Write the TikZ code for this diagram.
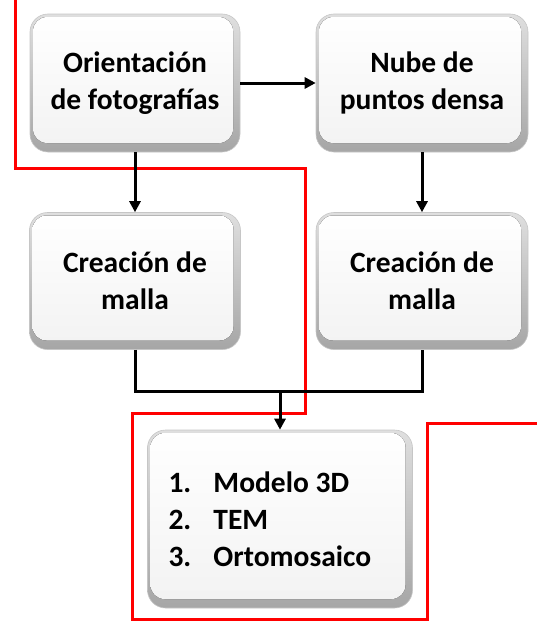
\documentclass[tikz,border=0pt]{standalone}
\usepackage{fontspec}
\setmainfont{Carlito}
\usepackage{xcolor}
\usepackage{tikz}
\usetikzlibrary{arrows.meta}

\begin{document}
\begin{tikzpicture}[
  x=1pt,
  y=-1pt,
  every node/.style={font=\bfseries\fontsize{29.5}{37}\selectfont},
  flowbox/.style={rounded corners=18pt, align=center, draw=gray!45, line width=0.6pt,
    top color=gray!25, bottom color=gray!70,
    path picture={\fill[rounded corners=14pt, top color=white, bottom color=gray!10]
      ([xshift=3pt,yshift=-3pt]path picture bounding box.north west) rectangle
      ([xshift=-7pt,yshift=9pt]path picture bounding box.south east);}},
  link/.style={line width=3pt, -{Triangle[length=11pt,width=11pt]}},
]
\path[use as bounding box] (0,0) rectangle (537,621);

% Layout.
\def\colL{135}
\def\colR{422}

% Red outline.
\draw[red, line width=3pt] (15,0) -- (15,168) -- (305,168) -- (305,413) -- (132,413)
  -- (132,619) -- (427,619) -- (427,423) -- (537,423);

% Boxes.
\node[flowbox, minimum width=210pt, minimum height=138pt] (orient) at (\colL,83) {Orientación\\de fotografías};
\node[flowbox, minimum width=212pt, minimum height=138pt] (nube) at (\colR,83) {Nube de\\puntos densa};
\node[flowbox, minimum width=211pt, minimum height=137pt] (mallaL) at (\colL,281) {Creación de\\malla};
\node[flowbox, minimum width=212pt, minimum height=137pt] (mallaR) at (\colR,281) {Creación de\\malla};
\node[flowbox, align=flush left, text width=223pt, inner xsep=21pt, minimum height=178pt] (prod) at (280,519)
  {\makebox[45pt][l]{1.}Modelo 3D\\\makebox[45pt][l]{2.}TEM\\\makebox[45pt][l]{3.}Ortomosaico};

% Connectors.
\coordinate (merge) at (280,391);
\draw[link] (orient) -- (nube);
\draw[link] (orient) -- (mallaL);
\draw[link] (nube) -- (mallaR);
\draw[line width=3pt] (mallaL.south) |- (merge) -| (mallaR.south);
\draw[link] (merge) -- (prod);

\end{tikzpicture}
\end{document}
